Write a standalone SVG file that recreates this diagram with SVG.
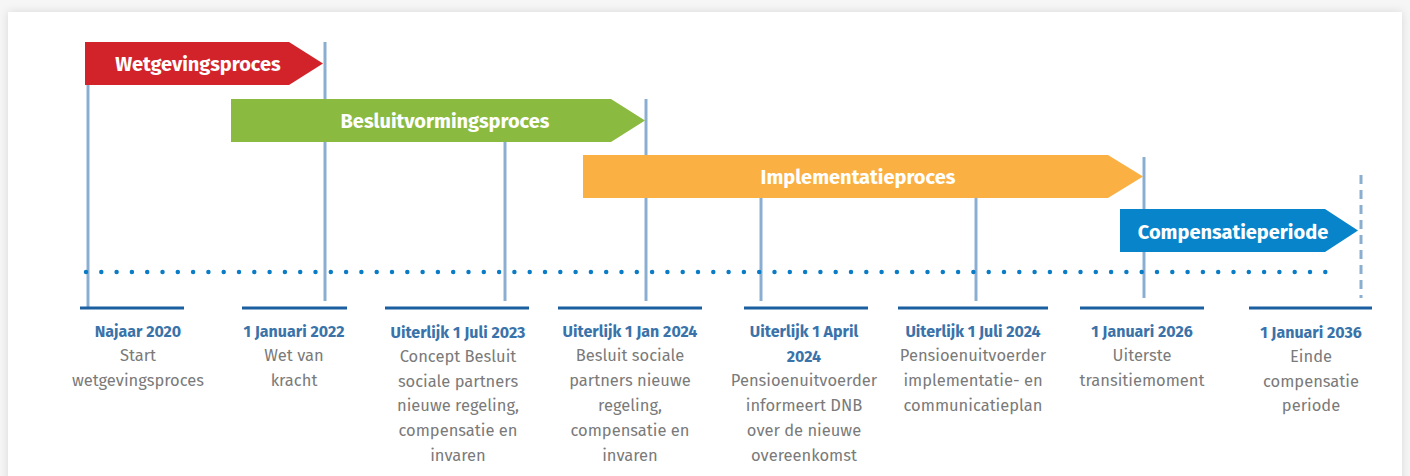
<svg xmlns="http://www.w3.org/2000/svg" width="1410" height="476" viewBox="0 0 1410 476">
<defs>
<filter id="sh" x="-5%" y="-10%" width="110%" height="120%">
<feDropShadow dx="0" dy="0" stdDeviation="5" flood-color="#000" flood-opacity="0.12"/>
</filter>
<style>
.bar{font-family:"Fira Sans","Lato","Open Sans",sans-serif;font-weight:700;font-size:20px;fill:#fff;text-anchor:middle}
.vl{stroke:#8aaed0;stroke-width:3;fill:none}
.base{stroke:#1b5fa0;stroke-width:3;fill:none}
.dt{font-family:"Fira Sans","Lato","Open Sans",sans-serif;font-weight:700;font-size:16px;fill:#3a73aa;text-anchor:middle}
.ds{font-family:"Fira Sans","Lato","Open Sans",sans-serif;font-weight:400;font-size:16.5px;fill:#7a7a7a;text-anchor:middle}
</style>
</defs>
<rect x="0" y="0" width="1410" height="476" fill="#f6f6f6"/>
<rect x="8" y="12" width="1394" height="480" fill="#fff" filter="url(#sh)"/>

<g id="connectors">
<line class="vl" x1="88" y1="85" x2="88" y2="307"/>
<line class="vl" x1="325" y1="42" x2="325" y2="301"/>
<line class="vl" x1="505" y1="142" x2="505" y2="301"/>
<line class="vl" x1="646" y1="99" x2="646" y2="301"/>
<line class="vl" x1="761" y1="155" x2="761" y2="301"/>
<line class="vl" x1="976" y1="155" x2="976" y2="301"/>
<line class="vl" x1="1144" y1="157" x2="1144" y2="298"/>
<line class="vl" x1="1361" y1="175" x2="1361" y2="298" stroke-dasharray="9,6"/>
<line x1="86" y1="272" x2="1332" y2="272" stroke="#0a7cc6" stroke-width="4.5" stroke-linecap="round" stroke-dasharray="0,15.3"/>
<line class="base" x1="80" y1="308" x2="184" y2="308"/>
<line class="base" x1="242" y1="308" x2="347" y2="308"/>
<line class="base" x1="385" y1="308" x2="529" y2="308"/>
<line class="base" x1="558" y1="308" x2="702" y2="308"/>
<line class="base" x1="744" y1="308" x2="868" y2="308"/>
<line class="base" x1="898" y1="308" x2="1048" y2="308"/>
<line class="base" x1="1080" y1="308" x2="1204" y2="308"/>
<line class="base" x1="1249" y1="308" x2="1372" y2="308"/>
</g>

<g id="wetgevingsproces">
<polygon points="85,42 289,42 323,63.5 289,85 85,85" fill="#d2232a"/>
<text class="bar" x="198" y="70.5">Wetgevingsproces</text>
</g>
<g id="besluitvormingsproces">
<polygon points="231,99 611,99 645,120.5 611,142 231,142" fill="#8aba3f"/>
<text class="bar" x="445" y="127.5">Besluitvormingsproces</text>
</g>
<g id="implementatieproces">
<polygon points="583,155 1108,155 1143,176.5 1108,198 583,198" fill="#fbb043"/>
<text class="bar" x="858" y="183.5">Implementatieproces</text>
</g>
<g id="compensatieperiode">
<polygon points="1120,209 1325,209 1358,230.5 1325,252 1120,252" fill="#0884cb"/>
<text class="bar" x="1233" y="238.5">Compensatieperiode</text>
</g>

<g id="m1">
<text class="dt" x="138" y="337">Najaar 2020</text>
<text class="ds" x="138" y="361">Start</text>
<text class="ds" x="138" y="386">wetgevingsproces</text>
</g>
<g id="m2">
<text class="dt" x="294" y="337">1 Januari 2022</text>
<text class="ds" x="294" y="361">Wet van</text>
<text class="ds" x="294" y="386">kracht</text>
</g>
<g id="m3">
<text class="dt" x="458" y="338">Uiterlijk 1 Juli 2023</text>
<text class="ds" x="458" y="362">Concept Besluit</text>
<text class="ds" x="458" y="387">sociale partners</text>
<text class="ds" x="458" y="411">nieuwe regeling,</text>
<text class="ds" x="458" y="436">compensatie en</text>
<text class="ds" x="458" y="461">invaren</text>
</g>
<g id="m4">
<text class="dt" x="630" y="337">Uiterlijk 1 Jan 2024</text>
<text class="ds" x="630" y="361">Besluit sociale</text>
<text class="ds" x="630" y="386">partners nieuwe</text>
<text class="ds" x="630" y="411">regeling,</text>
<text class="ds" x="630" y="436">compensatie en</text>
<text class="ds" x="630" y="461">invaren</text>
</g>
<g id="m5">
<text class="dt" x="804" y="337">Uiterlijk 1 April</text>
<text class="dt" x="804" y="362">2024</text>
<text class="ds" x="804" y="386">Pensioenuitvoerder</text>
<text class="ds" x="804" y="411">informeert DNB</text>
<text class="ds" x="804" y="436">over de nieuwe</text>
<text class="ds" x="804" y="461">overeenkomst</text>
</g>
<g id="m6">
<text class="dt" x="973" y="337">Uiterlijk 1 Juli 2024</text>
<text class="ds" x="973" y="361">Pensioenuitvoerder</text>
<text class="ds" x="973" y="386">implementatie- en</text>
<text class="ds" x="973" y="411">communicatieplan</text>
</g>
<g id="m7">
<text class="dt" x="1142" y="337">1 Januari 2026</text>
<text class="ds" x="1142" y="361">Uiterste</text>
<text class="ds" x="1142" y="386">transitiemoment</text>
</g>
<g id="m8">
<text class="dt" x="1311" y="338">1 Januari 2036</text>
<text class="ds" x="1311" y="362">Einde</text>
<text class="ds" x="1311" y="387">compensatie</text>
<text class="ds" x="1311" y="411">periode</text>
</g>
</svg>
